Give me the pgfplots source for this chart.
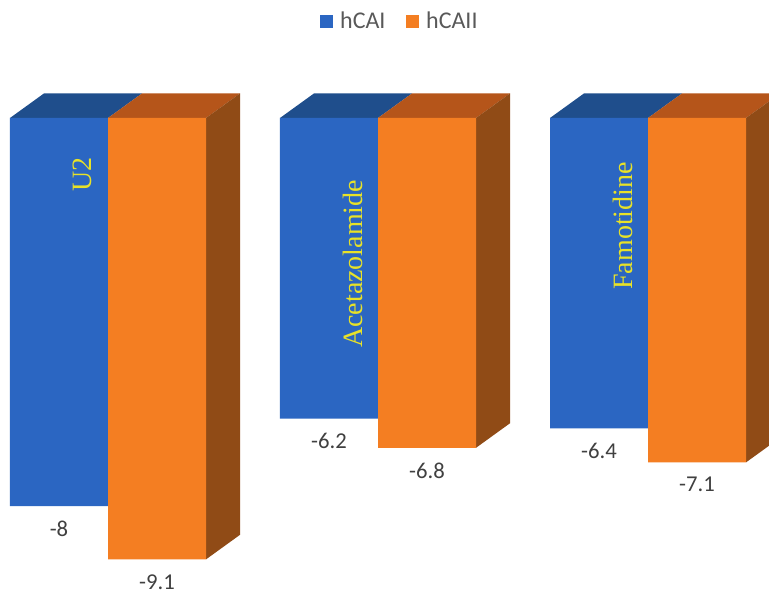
\documentclass[border=0pt]{standalone}
\usepackage{pgfplots}
\pgfplotsset{compat=1.18}
\usepackage{pgfplotstable}
\usepackage{fontspec}
\setmainfont{Carlito}
\newfontfamily\serifcat{Liberation Serif}
\definecolor{blueF}{HTML}{2B66C2}
\definecolor{blueT}{HTML}{1F4E8C}
\definecolor{orangeF}{HTML}{F47E22}
\definecolor{orangeT}{HTML}{B5551A}
\definecolor{orangeS}{HTML}{904B16}
\definecolor{catYellow}{RGB}{232,226,40}
\definecolor{legGray}{HTML}{595959}
\definecolor{lblGray}{HTML}{404040}

\pgfplotstableread{
x hCAI hCAII lblI lblII
0 -8 -9.1 -8 -9.1
1 -6.2 -6.8 -6.2 -6.8
2 -6.4 -7.1 -6.4 -7.1
}\data

\begin{document}
\begin{tikzpicture}
\begin{axis}[
  scale only axis, width=576.75pt, height=445.5pt,
  xmin=-0.4, xmax=2.4481, ymin=-9.814, ymax=2.433,
  hide axis,
  legend columns=2,
  legend style={draw=none, fill=none, at={(rel axis cs:0.52,0.964)}, anchor=center,
    font=\fontsize{18}{20}\selectfont\color{legGray},
    /tikz/every even column/.append style={column sep=13pt}},
  lbl/.style={draw=none, mark=none, forget plot, nodes near coords, point meta=explicit symbolic,
    every node near coord/.append style={anchor=north, font=\fontsize{17}{19}\selectfont, text=lblGray, inner sep=0pt, yshift=-11pt}},
]
% blue top faces
\addplot[forget plot, fill=blueT, draw=none] coordinates {(-0.363,0) (-0.237,0.507) (0.126,0.507) (0,0)} -- cycle;
\addplot[forget plot, fill=blueT, draw=none] coordinates {(0.637,0) (0.763,0.507) (1.126,0.507) (1,0)} -- cycle;
\addplot[forget plot, fill=blueT, draw=none] coordinates {(1.637,0) (1.763,0.507) (2.126,0.507) (2,0)} -- cycle;
% blue fronts
\addplot[ybar, bar width=0.363, bar shift=-0.1815, fill=blueF, draw=none,
  legend image code/.code={\fill[blueF] (0pt,-4.9pt) rectangle (9.75pt,4.9pt); \path (13.5pt,0pt);}]
  table[x=x, y=hCAI]{\data};
\addlegendentry{hCAI}
% orange top faces
\addplot[forget plot, fill=orangeT, draw=none] coordinates {(0,0) (0.126,0.507) (0.489,0.507) (0.363,0)} -- cycle;
\addplot[forget plot, fill=orangeT, draw=none] coordinates {(1,0) (1.126,0.507) (1.489,0.507) (1.363,0)} -- cycle;
\addplot[forget plot, fill=orangeT, draw=none] coordinates {(2,0) (2.126,0.507) (2.489,0.507) (2.363,0)} -- cycle;
% orange side faces
\addplot[forget plot, fill=orangeS, draw=none] coordinates {(0.363,0) (0.489,0.507) (0.489,-8.593) (0.363,-9.1)} -- cycle;
\addplot[forget plot, fill=orangeS, draw=none] coordinates {(1.363,0) (1.489,0.507) (1.489,-6.293) (1.363,-6.8)} -- cycle;
\addplot[forget plot, fill=orangeS, draw=none] coordinates {(2.363,0) (2.489,0.507) (2.489,-6.593) (2.363,-7.1)} -- cycle;
% orange fronts
\addplot[ybar, bar width=0.363, bar shift=0.1815, fill=orangeF, draw=none,
  legend image code/.code={\fill[orangeF] (0pt,-4.9pt) rectangle (9.75pt,4.9pt); \path (13.5pt,0pt);}]
  table[x=x, y=hCAII]{\data};
\addlegendentry{hCAII}
% value labels
\addplot[lbl] table[x expr=\thisrow{x}-0.1815, y=hCAI, meta=lblI]{\data};
\addplot[lbl] table[x expr=\thisrow{x}+0.1815, y=hCAII, meta=lblII]{\data};
% category labels
\node[rotate=90, anchor=base west, text=catYellow, inner sep=0pt, font=\serifcat\fontsize{21}{24}\selectfont] at (axis cs:-0.0593,-1.526) {U2};
\node[rotate=90, anchor=base west, text=catYellow, inner sep=0pt, font=\serifcat\fontsize{21}{24}\selectfont] at (axis cs:0.944,-4.742) {Acetazolamide};
\node[rotate=90, anchor=base west, text=catYellow, inner sep=0pt, font=\serifcat\fontsize{21}{24}\selectfont] at (axis cs:1.941,-3.546) {Famotidine};
\end{axis}
\pgfresetboundingbox
\path[use as bounding box] (current axis.south west) rectangle (current axis.north east);
\end{tikzpicture}
\end{document}
